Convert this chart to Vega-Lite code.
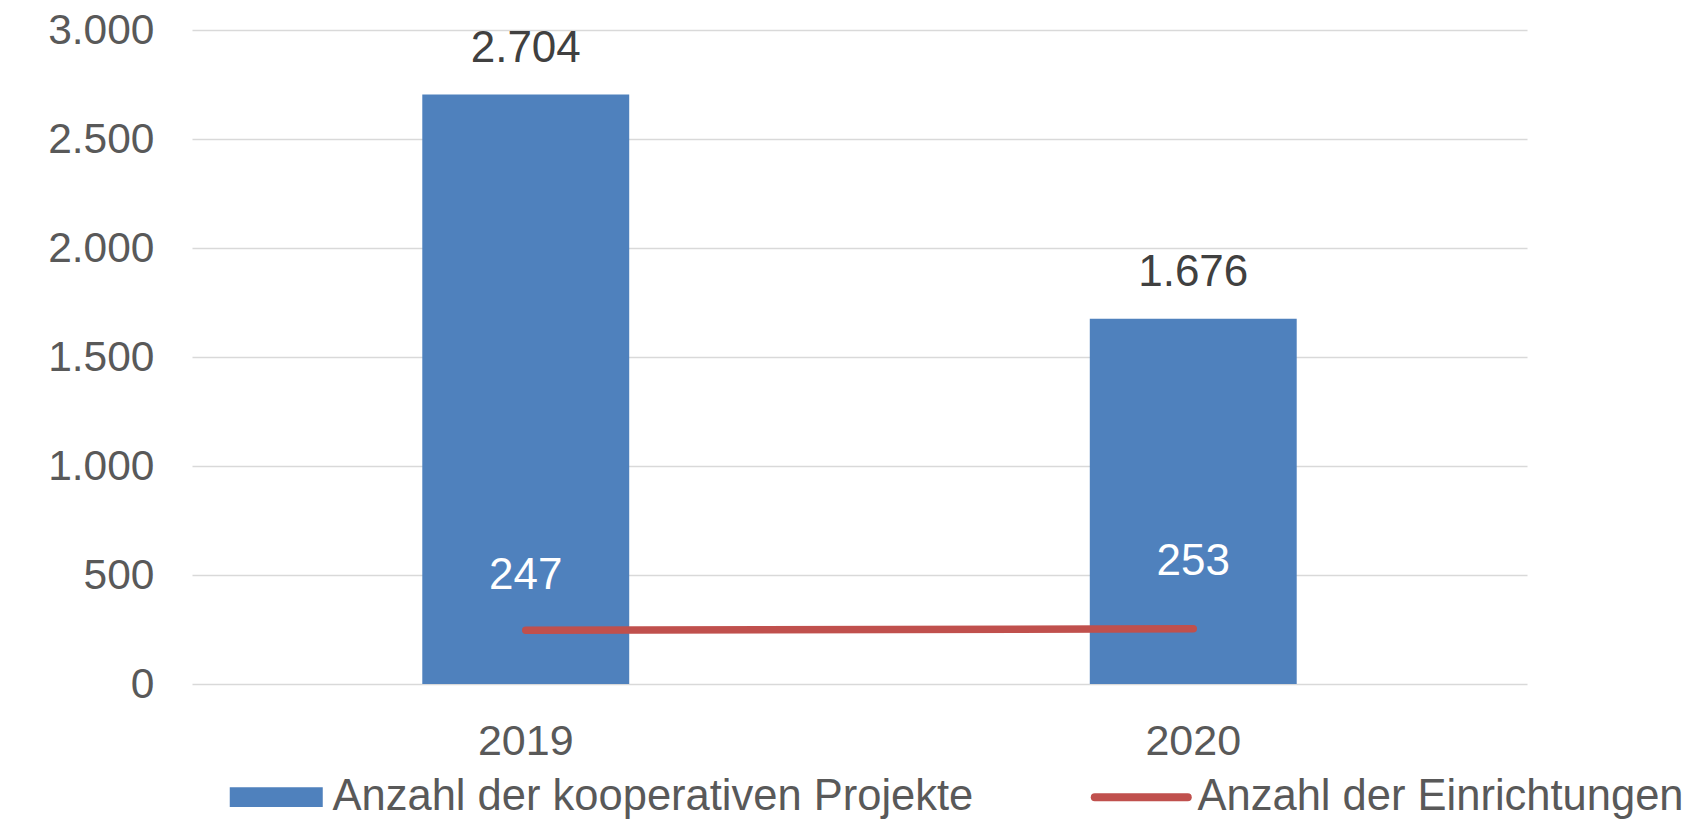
{
  "$schema": "https://vega.github.io/schema/vega-lite/v6.json",
  "width": 1335,
  "height": 654,
  "autosize": {"type": "none"},
  "padding": {"left": 192, "top": 30, "right": 162, "bottom": 135},
  "background": "white",
  "config": {
    "locale": {"number": {"decimal": ",", "thousands": ".", "grouping": [3], "currency": ["", " €"]}},
    "view": {"stroke": null},
    "font": "Liberation Sans"
  },
  "data": {
    "values": [
      {"year": "2019", "projekte": 2704, "einrichtungen": 247},
      {"year": "2020", "projekte": 1676, "einrichtungen": 253}
    ]
  },
  "encoding": {
    "x": {
      "field": "year",
      "type": "nominal",
      "scale": {"paddingInner": 0, "paddingOuter": 0},
      "axis": {
        "labelAngle": 0,
        "labelFontSize": 43,
        "labelColor": "#595959",
        "labelFont": "Liberation Sans",
        "domain": false,
        "ticks": false,
        "grid": false,
        "title": null,
        "labelPadding": 36
      }
    }
  },
  "layer": [
    {
      "mark": {"type": "bar", "width": {"band": 0.31}},
      "encoding": {
        "y": {
          "field": "projekte",
          "type": "quantitative",
          "scale": {"domain": [0, 3000], "nice": false},
          "axis": {
            "values": [0, 500, 1000, 1500, 2000, 2500, 3000],
            "format": ",d",
            "grid": true,
            "gridColor": "#d9d9d9",
            "gridWidth": 1.5,
            "domain": false,
            "ticks": false,
            "title": null,
            "labelFontSize": 42.5,
            "labelColor": "#595959",
            "labelFont": "Liberation Sans",
            "labelPadding": 38
          }
        },
        "color": {
          "datum": "Anzahl der kooperativen Projekte",
          "type": "nominal",
          "scale": {
            "domain": ["Anzahl der kooperativen Projekte", "Anzahl der Einrichtungen"],
            "range": ["#4F81BD", "#C0504D"]
          },
          "legend": {
            "orient": "none",
            "legendX": 62.5,
            "legendY": 745,
            "direction": "horizontal",
            "columns": 2,
            "columnPadding": 105,
            "labelOffset": 34.5,
            "symbolSize": 8649,
            "labelFontSize": 43.5,
            "labelColor": "#595959",
            "labelFont": "Liberation Sans",
            "labelLimit": 0,
            "title": null,
            "padding": 0,
            "encode": {
              "symbols": {
                "update": {
                  "shape": {"signal": "datum.label == 'Anzahl der Einrichtungen' ? 'stroke' : 'M-1,-0.215H1V0.215H-1Z'"},
                  "fill": {"signal": "datum.label == 'Anzahl der Einrichtungen' ? 'transparent' : '#4F81BD'"},
                  "stroke": {"signal": "datum.label == 'Anzahl der Einrichtungen' ? '#C0504D' : 'transparent'"},
                  "strokeWidth": {"signal": "datum.label == 'Anzahl der Einrichtungen' ? 8 : 0"},
                  "strokeCap": {"value": "round"},
                  "opacity": {"value": 1}
                }
              }
            }
          }
        }
      }
    },
    {
      "mark": {"type": "text", "baseline": "middle", "dy": -46, "fontSize": 44, "color": "#404040", "font": "Liberation Sans"},
      "encoding": {
        "y": {"field": "projekte", "type": "quantitative"},
        "text": {"field": "projekte", "type": "quantitative", "format": ",d"}
      }
    },
    {
      "mark": {"type": "line", "strokeWidth": 7.5, "strokeCap": "round"},
      "encoding": {
        "y": {"field": "einrichtungen", "type": "quantitative"},
        "color": {"datum": "Anzahl der Einrichtungen", "type": "nominal"}
      }
    },
    {
      "transform": [{"filter": "datum.year == '2019'"}],
      "mark": {"type": "text", "baseline": "middle", "dy": -54, "fontSize": 44, "color": "white", "font": "Liberation Sans"},
      "encoding": {
        "y": {"field": "einrichtungen", "type": "quantitative"},
        "text": {"field": "einrichtungen", "type": "quantitative", "format": ",d"}
      }
    },
    {
      "transform": [{"filter": "datum.year == '2020'"}],
      "mark": {"type": "text", "baseline": "middle", "dy": -67, "fontSize": 44, "color": "white", "font": "Liberation Sans"},
      "encoding": {
        "y": {"field": "einrichtungen", "type": "quantitative"},
        "text": {"field": "einrichtungen", "type": "quantitative", "format": ",d"}
      }
    }
  ]
}
